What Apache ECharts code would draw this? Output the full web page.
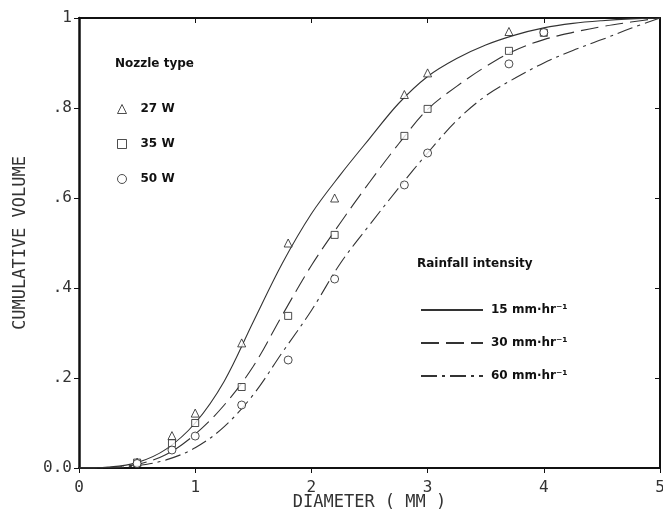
<!DOCTYPE html>
<html>
    <head>
        <meta charset="utf-8">
        <title>cumulative volume</title>
        <script src="https://cdn.jsdelivr.net/npm/echarts@6/dist/echarts.min.js"></script>
    </head>
    <body style="margin:0">
        <style>
            html, body, #main {
                width: 663px;
                height: 513px;
                background: #fff;
            }
        </style>
        <div id="main"></div>
        <script>
            // measured drop sizes (mm) and cumulative volume per nozzle
            var markerX = [0.5, 0.8, 1.0, 1.4, 1.8, 2.2, 2.8, 3.0, 3.7, 4.0];
            var nozzle27 = [0.013, 0.072, 0.122, 0.278, 0.50, 0.60, 0.83, 0.878, 0.97, null];
            var nozzle35 = [0.012, 0.055, 0.10, 0.18, 0.338, 0.518, 0.738, 0.798, 0.927, 0.967];
            var nozzle50 = [0.010, 0.04, 0.071, 0.14, 0.24, 0.42, 0.629, 0.70, 0.898, 0.968];

            // fitted curves
            var curveX = [0, 0.25, 0.5, 0.75, 1.0, 1.25, 1.5, 1.75, 2.0, 2.25, 2.5,
                          2.75, 3.0, 3.25, 3.5, 3.75, 4.0, 4.25, 4.5, 4.75, 5.0];
            var rain15 = [0, 0.002, 0.012, 0.042, 0.10, 0.193, 0.325, 0.455, 0.565, 0.652, 0.732,
                          0.81, 0.87, 0.91, 0.94, 0.962, 0.978, 0.988, 0.994, 0.998, 1.0];
            var rain30 = [0, 0.001, 0.008, 0.03, 0.075, 0.14, 0.226, 0.34, 0.45, 0.545, 0.635,
                          0.72, 0.797, 0.848, 0.892, 0.928, 0.952, 0.968, 0.981, 0.991, 1.0];
            var rain60 = [0, 0.0005, 0.005, 0.018, 0.045, 0.092, 0.163, 0.257, 0.35, 0.455, 0.54,
                          0.622, 0.70, 0.772, 0.827, 0.866, 0.90, 0.928, 0.952, 0.977, 1.0];

            var nozzleNames = ['27 W', '35 W', '50 W'];
            var rainNames = ['15 mm\u00b7hr\u207b\u00b9', '30 mm\u00b7hr\u207b\u00b9', '60 mm\u00b7hr\u207b\u00b9'];
            var xTickLabels = ['0', '1', '2', '3', '4', '5'];
            var yTickLabels = ['0.0', '.2', '.4', '.6', '.8', '1'];

            function pairs(xs, ys) {
                var out = [];
                for (var i = 0; i < xs.length; i++) {
                    if (ys[i] != null) out.push([xs[i], ys[i]]);
                }
                return out;
            }

            var ink = '#333';
            var mono = 'DejaVu Sans Mono';
            var bold = { fontFamily: 'DejaVu Sans', fontSize: 12, fontWeight: 'bold', color: '#111' };

            var chart = echarts.init(document.getElementById('main'));

            function markerSeries(name, symbol, size, values) {
                return {
                    name: name,
                    type: 'scatter',
                    symbol: symbol,
                    symbolSize: size,
                    itemStyle: { color: '#fff', borderColor: '#222', borderWidth: 1 },
                    data: pairs(markerX, values),
                    z: 3
                };
            }

            function curveSeries(name, type, values) {
                return {
                    name: name,
                    type: 'line',
                    smooth: 0.35,
                    symbol: 'none',
                    lineStyle: { color: '#333', width: 1.1, type: type },
                    data: pairs(curveX, values),
                    z: 2
                };
            }

            chart.setOption({
                animation: false,
                backgroundColor: '#fff',
                title: [
                    { text: 'Nozzle type', left: 110, top: 53, textStyle: bold },
                    { text: 'Rainfall intensity', left: 412, top: 253, textStyle: bold }
                ],
                grid: { left: 79, right: 3, top: 18, bottom: 45, outerBoundsMode: 'none' },
                legend: [
                    {
                        data: nozzleNames,
                        orient: 'vertical',
                        left: 117, top: 103,
                        padding: 0,
                        itemWidth: 9, itemHeight: 9,
                        itemGap: 23,
                        itemStyle: { borderWidth: 1 },
                        textStyle: Object.assign({ padding: [0, 0, 0, 9] }, bold),
                        selectedMode: false
                    },
                    {
                        data: rainNames,
                        orient: 'vertical',
                        left: 420, top: 304,
                        padding: 0,
                        itemWidth: 62, itemHeight: 10,
                        itemGap: 21,
                        itemStyle: { opacity: 0 },
                        textStyle: Object.assign({ padding: [0, 0, 0, 3] }, bold),
                        selectedMode: false
                    }
                ],
                xAxis: [
                    {
                        type: 'value', min: 0, max: 5, interval: 1,
                        name: 'DIAMETER ( MM )', nameLocation: 'middle', nameGap: 26,
                        nameMoveOverlap: false,
                        nameTextStyle: { fontFamily: mono, fontSize: 17, color: ink },
                        axisLine: { onZero: false, lineStyle: { color: '#111', width: 2 } },
                        axisTick: { length: 5, lineStyle: { color: '#111' } },
                        axisLabel: {
                            margin: 12, fontFamily: mono, fontSize: 16, color: ink,
                            formatter: function (v) { return xTickLabels[Math.round(v)]; }
                        },
                        splitLine: { show: false }
                    },
                    {
                        type: 'value', min: 0, max: 5, interval: 1, position: 'top',
                        axisLine: { onZero: false, lineStyle: { color: '#111', width: 2 } },
                        axisTick: { inside: true, length: 5, lineStyle: { color: '#111' } },
                        axisLabel: { show: false },
                        splitLine: { show: false }
                    }
                ],
                yAxis: [
                    {
                        type: 'value', min: 0, max: 1, interval: 0.2,
                        name: 'CUMULATIVE VOLUME', nameLocation: 'middle', nameGap: 50,
                        nameMoveOverlap: false,
                        nameTextStyle: { fontFamily: mono, fontSize: 17, color: ink },
                        axisLine: { show: true, onZero: false, lineStyle: { color: '#111', width: 2.5 } },
                        axisTick: { show: true, length: 5, lineStyle: { color: '#111' } },
                        axisLabel: {
                            margin: 7, fontFamily: mono, fontSize: 16, color: ink,
                            formatter: function (v) { return yTickLabels[Math.round(v * 5)]; }
                        },
                        splitLine: { show: false }
                    },
                    {
                        type: 'value', min: 0, max: 1, interval: 0.2, position: 'right',
                        axisLine: { show: true, onZero: false, lineStyle: { color: '#111', width: 2 } },
                        axisTick: { show: true, inside: true, length: 5, lineStyle: { color: '#111' } },
                        axisLabel: { show: false },
                        splitLine: { show: false }
                    }
                ],
                series: [
                    curveSeries(rainNames[0], 'solid', rain15),
                    curveSeries(rainNames[1], [18, 7], rain30),
                    curveSeries(rainNames[2], [16, 5, 3, 5], rain60),
                    markerSeries(nozzleNames[0], 'triangle', 8, nozzle27),
                    markerSeries(nozzleNames[1], 'rect', 7, nozzle35),
                    markerSeries(nozzleNames[2], 'circle', 8, nozzle50)
                ]
            });
        </script>
    </body>
</html>
